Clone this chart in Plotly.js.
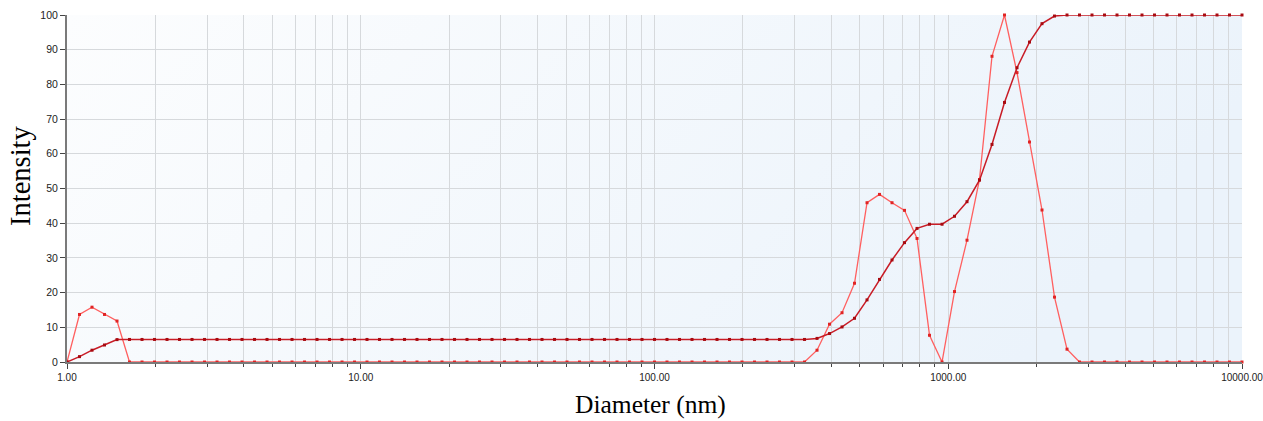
<!DOCTYPE html>
<html>
<head>
<meta charset="utf-8">
<script src="https://cdn.plot.ly/plotly-3.0.1.min.js"></script>
<style>html,body{margin:0;padding:0;background:#fff;}#chart{width:1263px;height:421px;}</style>
</head>
<body>
<div id="chart"></div>
<script>
// Diameter bins (nm)
const diameters = [
  1.000, 1.1029, 1.2165, 1.3418, 1.4799, 1.6323, 1.8003, 1.9857, 2.1901, 2.4156,
  2.6643, 2.9386, 3.2411, 3.5748, 3.9428, 4.3487, 4.7964, 5.2903, 5.8349, 6.4356,
  7.0982, 7.8290, 8.6350, 9.5240, 10.502, 11.583, 12.776, 14.091, 15.541, 17.141,
  18.905, 20.852, 22.999, 25.366, 27.978, 30.857, 34.034, 37.538, 41.402, 45.664,
  50.365, 55.550, 61.268, 67.576, 74.532, 82.205, 90.667, 100.00, 110.29, 121.65,
  134.18, 147.99, 163.23, 180.03, 198.57, 219.01, 241.56, 266.43, 293.86, 324.11,
  357.48, 394.28, 434.87, 479.64, 529.03, 583.49, 643.56, 709.82, 782.90, 863.50,
  952.40, 1050.2, 1158.3, 1277.6, 1409.1, 1554.1, 1714.1, 1890.5, 2085.2, 2299.9,
  2536.6, 2797.8, 3085.7, 3403.4, 3753.8, 4140.2, 4566.4, 5036.5, 5555.0, 6126.8,
  6757.6, 7453.2, 8220.5, 9066.7, 10000
];
// Intensity distribution
const distribution = [
  0, 13.7, 15.8, 13.7, 11.8, 0, 0, 0, 0, 0,
  0, 0, 0, 0, 0, 0, 0, 0, 0, 0,
  0, 0, 0, 0, 0, 0, 0, 0, 0, 0,
  0, 0, 0, 0, 0, 0, 0, 0, 0, 0,
  0, 0, 0, 0, 0, 0, 0, 0, 0, 0,
  0, 0, 0, 0, 0, 0, 0, 0, 0, 0,
  3.4, 10.9, 14.2, 22.7, 45.9, 48.3, 45.9, 43.7, 35.6, 7.7,
  0, 20.3, 35.1, 52.6, 88.1, 100, 83.4, 63.4, 43.8, 18.7,
  3.7, 0, 0, 0, 0, 0, 0, 0, 0, 0,
  0, 0, 0, 0, 0
];
// Cumulative intensity
const cumulative = [
  0, 1.55, 3.4, 4.9, 6.45, 6.5, 6.5, 6.5, 6.5, 6.5,
  6.5, 6.5, 6.5, 6.5, 6.5, 6.5, 6.5, 6.5, 6.5, 6.5,
  6.5, 6.5, 6.5, 6.5, 6.5, 6.5, 6.5, 6.5, 6.5, 6.5,
  6.5, 6.5, 6.5, 6.5, 6.5, 6.5, 6.5, 6.5, 6.5, 6.5,
  6.5, 6.5, 6.5, 6.5, 6.5, 6.5, 6.5, 6.5, 6.5, 6.5,
  6.5, 6.5, 6.5, 6.5, 6.5, 6.5, 6.5, 6.5, 6.5, 6.5,
  6.8, 8.2, 10.1, 12.6, 17.9, 23.8, 29.4, 34.4, 38.5, 39.7,
  39.7, 42.0, 46.2, 52.4, 62.7, 74.8, 84.8, 92.2, 97.5, 99.7,
  100, 100, 100, 100, 100, 100, 100, 100, 100, 100,
  100, 100, 100, 100, 100
];
const xTickVals = [1, 10, 100, 1000, 10000];
const xTickText = ['1.00', '10.00', '100.00', '1000.00', '10000.00'];
const yTickVals = [0, 10, 20, 30, 40, 50, 60, 70, 80, 90, 100];
const xTitle = 'Diameter (nm)';
const yTitle = 'Intensity';

const minorVals = [];
[1, 10, 100, 1000].forEach(d => { for (let m = 2; m <= 9; m++) minorVals.push(m * d); });

const gradSvg = '<svg xmlns="http://www.w3.org/2000/svg" width="100" height="100" viewBox="0 0 100 100" preserveAspectRatio="none">' +
  '<defs><linearGradient id="g" x1="0" y1="0" x2="1" y2="0.25"><stop offset="0" stop-color="#fcfdfe"/><stop offset="1" stop-color="#ebf3fb"/></linearGradient></defs>' +
  '<rect width="100" height="100" fill="url(#g)"/></svg>';
const gradUri = 'data:image/svg+xml;charset=utf-8,' + encodeURIComponent(gradSvg);

const traces = [
  {
    x: diameters, y: distribution, type: 'scatter', mode: 'lines+markers',
    line: {color: '#ff5f5f', width: 1.3},
    marker: {color: '#e02424', size: 3, symbol: 'square'},
    cliponaxis: false, showlegend: false, hoverinfo: 'x+y'
  },
  {
    x: diameters, y: cumulative, type: 'scatter', mode: 'lines+markers',
    line: {color: '#c81c26', width: 1.5},
    marker: {color: '#a80a10', size: 3, symbol: 'square'},
    cliponaxis: false, showlegend: false, hoverinfo: 'x+y'
  }
];

const serif = '"Liberation Serif", "Times New Roman", serif';
const sans = '"Liberation Sans", Arial, sans-serif';

const layout = {
  width: 1263, height: 421,
  margin: {l: 67, r: 21, t: 15, b: 59},
  paper_bgcolor: '#ffffff',
  plot_bgcolor: 'rgba(0,0,0,0)',
  font: {family: sans, size: 10, color: '#222'},
  images: [{source: gradUri, xref: 'paper', yref: 'paper', x: 0, y: 1, sizex: 1, sizey: 1,
    sizing: 'stretch', xanchor: 'left', yanchor: 'top', layer: 'below'}],
  xaxis: {
    type: 'log', range: [0, 4.00001], autorange: false,
    tickvals: xTickVals, ticktext: xTickText,
    ticks: 'outside', ticklen: 5, tickwidth: 1, tickcolor: '#444',
    ticklabeloverflow: 'allow',
    showgrid: true, gridcolor: '#d6d9dc', gridwidth: 1,
    minor: {tickvals: minorVals, ticks: 'outside', ticklen: 3, tickcolor: '#444', showgrid: true, gridcolor: '#d6d9dc', gridwidth: 1},
    showline: true, linecolor: '#7a7a7a', linewidth: 2,
    zeroline: false,
    tickfont: {family: sans, size: 10, color: '#222'},
    automargin: false
  },
  yaxis: {
    range: [0, 100], autorange: false,
    tickvals: yTickVals,
    ticks: 'outside', ticklen: 5, tickwidth: 1, tickcolor: '#444',
    showgrid: true, gridcolor: '#d6d9dc', gridwidth: 1,
    showline: true, linecolor: '#7a7a7a', linewidth: 2,
    zeroline: false,
    tickfont: {family: sans, size: 10.5, color: '#222'},
    automargin: false
  },
  annotations: [
    {text: xTitle, xref: 'paper', yref: 'paper', x: 0.497, y: -0.122, xanchor: 'center', yanchor: 'middle',
      showarrow: false, borderpad: 0, font: {family: serif, size: 25.5, color: '#000'}},
    {text: yTitle, xref: 'paper', yref: 'paper', x: -0.040, y: 0.536, xanchor: 'center', yanchor: 'middle',
      textangle: -90, showarrow: false, font: {family: serif, size: 28.5, color: '#000'}}
  ]
};

Plotly.newPlot('chart', traces, layout, {displayModeBar: false, staticPlot: true});
</script>
</body>
</html>
